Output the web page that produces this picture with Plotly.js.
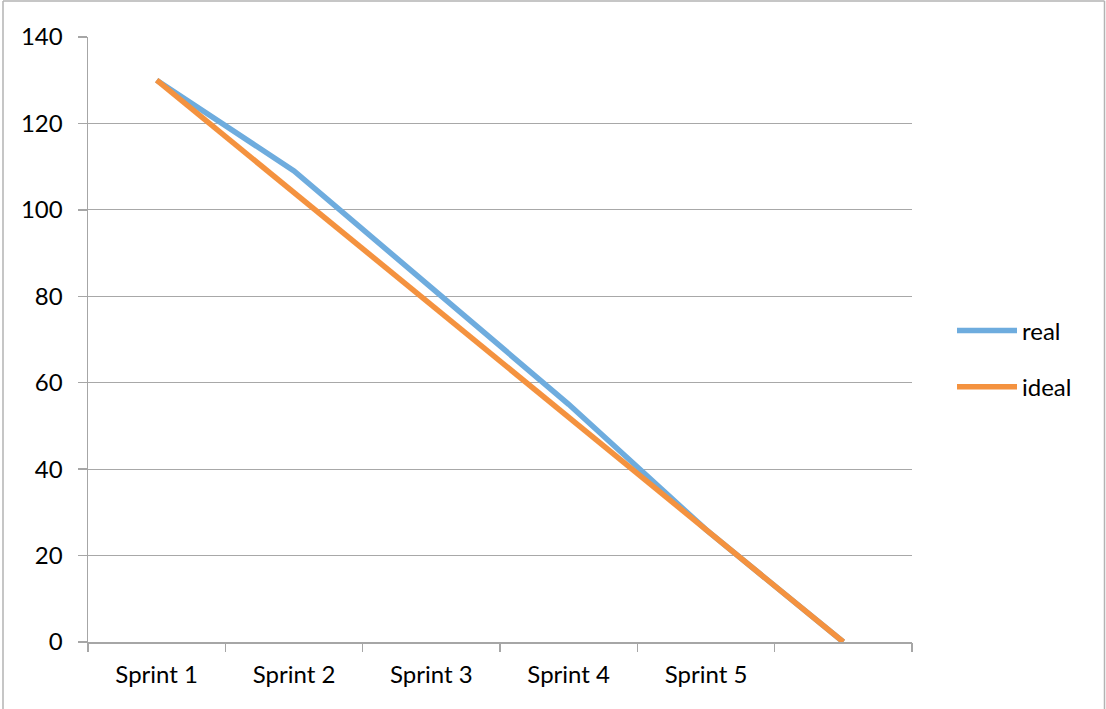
<!DOCTYPE html>
<html><head><meta charset="utf-8">
<script src="https://cdn.plot.ly/plotly-3.0.1.min.js"></script>
<style>html,body{margin:0;padding:0;background:#fff;}#chart{width:1106px;height:709px;}</style>
</head><body><div id="chart"></div>
<script>
var sprintLabels = ['Sprint 1', 'Sprint 2', 'Sprint 3', 'Sprint 4', 'Sprint 5', ''];
var positions = [0, 1, 2, 3, 4, 5];
var realValues = [130, 109, 82, 55, 26, 0];
var idealValues = [130, 104, 78, 52, 26, 0];
var boundaryTicks = [-0.5, 0.5, 1.5, 2.5, 3.5, 4.5, 5.5];
var yTicks = [0, 20, 40, 60, 80, 100, 120, 140];

var FONT = 'Lato, "Open Sans", sans-serif';
var GRID = '#a6a6a6';

var traces = [
  {x: positions, y: realValues, name: 'real', type: 'scatter', mode: 'lines',
   line: {color: '#6EACDE', width: 5.5}, legendgroup: 'a', hoverinfo: 'skip'},
  {x: positions, y: idealValues, name: 'ideal', type: 'scatter', mode: 'lines',
   line: {color: '#F4923F', width: 5.5}, legendgroup: 'b', hoverinfo: 'skip'}
];

var L = 88, R = 194, T = 37, B = 67, W = 1106, H = 709;
var pw = W - L - R, ph = H - T - B;
function px(x){ return (x - L) / pw; }
function py(y){ return (H - B - y) / ph; }

var layout = {
  width: W, height: H,
  margin: {l: L, r: R, t: T, b: B, pad: 0},
  paper_bgcolor: '#fff', plot_bgcolor: '#fff',
  font: {family: FONT, size: 24, color: '#000'},
  showlegend: true,
  legend: {x: px(952), y: py(359), xanchor: 'left', yanchor: 'middle', itemwidth: 60,
           font: {family: FONT, size: 24, color: '#000'}, tracegroupgap: 22,
           bgcolor: 'rgba(0,0,0,0)'},
  xaxis: {range: [-0.5, 5.5], tickmode: 'array', tickvals: positions, ticktext: sprintLabels,
          showgrid: false, zeroline: false, showline: true, linecolor: GRID, linewidth: 1.5,
          ticks: '', ticklabelstandoff: 11, fixedrange: true},
  xaxis2: {range: [-0.5, 5.5], overlaying: 'x', anchor: 'y', side: 'bottom',
           tickmode: 'array', tickvals: boundaryTicks, showticklabels: false,
           ticks: 'outside', ticklen: 9, tickcolor: GRID, tickwidth: 1.5,
           showgrid: false, zeroline: false, showline: false},
  yaxis: {range: [0, 140], tickmode: 'array', tickvals: yTicks,
          showgrid: true, gridcolor: '#a8a8a8', gridwidth: 1.2, zeroline: false,
          showline: true, linecolor: GRID, linewidth: 1.5,
          ticks: 'outside', ticklen: 9, tickcolor: GRID, tickwidth: 1.5,
          ticklabelstandoff: 10, fixedrange: true},
  shapes: [
    {type: 'line', xref: 'paper', yref: 'paper', x0: px(3), x1: px(3), y0: py(1), y1: py(709), line: {color: '#b3b3b3', width: 1.5}},
    {type: 'line', xref: 'paper', yref: 'paper', x0: px(1104.5), x1: px(1104.5), y0: py(1), y1: py(709), line: {color: '#b3b3b3', width: 1.5}},
    {type: 'line', xref: 'paper', yref: 'paper', x0: px(3), x1: px(1104.5), y0: py(1), y1: py(1), line: {color: '#b3b3b3', width: 1.5}}
  ]
};

// dummy trace to activate xaxis2 for boundary tick marks
traces.push({x: [0], y: [null], xaxis: 'x2', yaxis: 'y', showlegend: false, hoverinfo: 'skip', mode: 'lines'});

Plotly.newPlot('chart', traces, layout, {displayModeBar: false, staticPlot: true});
</script></body></html>
